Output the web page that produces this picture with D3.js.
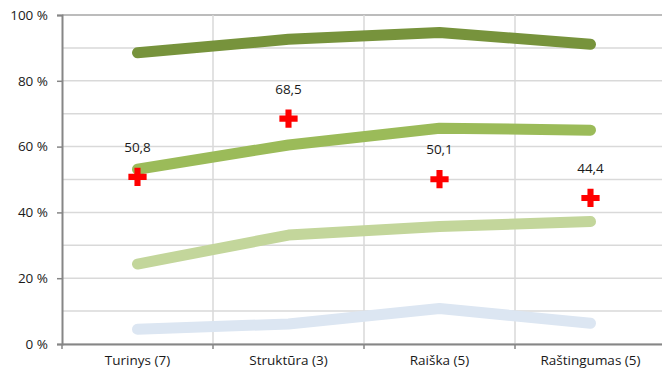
<!DOCTYPE html>
<html><head><meta charset="utf-8">
<script src="https://cdn.jsdelivr.net/npm/d3@7"></script>
<style>body{margin:0;background:#fff}svg{display:block}text{font-family:"Open Sans",sans-serif;fill:#1a1a1a}</style>
</head><body><svg id="c" width="662" height="376"></svg>
<script>
const categories = ["Turinys (7)", "Struktūra (3)", "Raiška (5)", "Raštingumas (5)"];
const seriesDark = [88.5, 92.6, 94.7, 91.1];
const seriesMid = [53.1, 60.5, 65.6, 65.0];
const seriesLight = [24.3, 33.1, 35.7, 37.2];
const seriesBlue = [4.5, 6.1, 10.8, 6.3];
const markerValues = [50.8, 68.5, 50.1, 44.4];
const markerLabels = ["50,8", "68,5", "50,1", "44,4"];
const yTicks = [0, 20, 40, 60, 80, 100];
const yGrid = [0, 10, 20, 30, 40, 50, 60, 70, 80, 90, 100];
const seriesColors = ["#DCE6F2", "#C3D69B", "#9BBB59", "#77933C"];

const FONT = "'Open Sans',sans-serif";
const FS = "13.5px";
const svg = d3.select("#c");
const m = {l: 62, t: 15, r: 666, b: 344};
const x = d3.scaleBand().domain(categories).range([m.l, m.r]);
const y = d3.scaleLinear().domain([0, 100]).range([m.b, m.t]);
const cx = d => x(d) + x.bandwidth() / 2;

svg.append("g").selectAll("line").data(yGrid).join("line")
  .attr("x1", m.l).attr("x2", m.r).attr("y1", d => y(d)).attr("y2", d => y(d))
  .attr("stroke", d => d === 100 ? "#A6A6A6" : "#D9D9D9").attr("stroke-width", 1.5);
svg.append("g").selectAll("line").data(categories.slice(1)).join("line")
  .attr("x1", d => x(d)).attr("x2", d => x(d)).attr("y1", m.t).attr("y2", m.b)
  .attr("stroke", "#D9D9D9").attr("stroke-width", 1.5);

const ya = svg.append("g").attr("transform", `translate(${m.l},0)`)
  .call(d3.axisLeft(y).tickValues(yTicks).tickSize(5).tickFormat(d => d + " %"));
ya.select(".domain").attr("stroke", "#868686").attr("stroke-width", 2);
ya.selectAll(".tick line").attr("stroke", "#868686").attr("stroke-width", 1.5);
ya.selectAll(".tick text").attr("x", -14).style("font-size", FS).style("font-family", FONT).attr("fill", "#1a1a1a");

const xa = svg.append("g").attr("transform", `translate(0,${m.b})`)
  .call(d3.axisBottom(x).tickSize(0).tickSizeOuter(0));
xa.select(".domain").attr("stroke", "#868686").attr("stroke-width", 2);
xa.selectAll(".tick text").attr("y", 11).style("font-size", FS).style("font-family", FONT).attr("fill", "#1a1a1a");
svg.append("g").selectAll("line").data(categories).join("line")
  .attr("x1", d => x(d)).attr("x2", d => x(d)).attr("y1", m.b).attr("y2", m.b + 5)
  .attr("stroke", "#868686").attr("stroke-width", 1.5);

const line = d3.line().x((d, i) => cx(categories[i])).y(d => y(d));
[seriesBlue, seriesLight, seriesMid, seriesDark].forEach((s, k) => {
  svg.append("path").datum(s).attr("d", line).attr("fill", "none")
    .attr("stroke", seriesColors[k]).attr("stroke-width", 11)
    .attr("stroke-linecap", "round").attr("stroke-linejoin", "round");
});

const plus = d3.symbol().type(d3.symbolCross).size(185);
svg.append("g").selectAll("path").data(markerValues).join("path")
  .attr("d", plus).attr("fill", "#FF0000")
  .attr("transform", (d, i) => `translate(${cx(categories[i])},${y(d)})`);
svg.append("g").selectAll("text").data(markerValues).join("text")
  .attr("x", (d, i) => cx(categories[i])).attr("y", d => y(d) - 25)
  .attr("text-anchor", "middle").style("font-size", FS)
  .text((d, i) => markerLabels[i]);
</script></body></html>
